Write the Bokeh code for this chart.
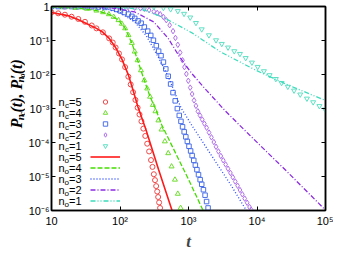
import numpy as np
from bokeh.plotting import figure
from bokeh.layouts import row
from bokeh.models import (Range1d, FixedTicker, CustomJSTickFormatter, LogAxis,
                          Legend, LegendItem, Label)
from bokeh.core.properties import value
from bokeh.embed import file_html
from bokeh.resources import INLINE

# ---------------- data (log10 of t and of P) ----------------
x_ticks = [10, 100, 1000, 10000, 100000]
x_tick_labels = ["10", "10²", "10³", "10⁴", "10⁵"]
y_ticks = [1e-6, 1e-5, 1e-4, 1e-3, 1e-2, 1e-1, 1]
y_tick_labels = ["10⁻⁶", "10⁻⁵", "10⁻⁴", "10⁻³", "10⁻²", "10⁻¹", "1"]

n_values = [5, 4, 3, 2, 1]

# markers: P_{n_c}(t)
mk5_log_t = [1.000, 1.098, 1.196, 1.293, 1.391, 1.489, 1.587, 1.656, 1.750, 1.842, 1.894, 1.936,
             1.985, 2.029, 2.075, 2.122, 2.156, 2.191, 2.225, 2.257, 2.285, 2.313, 2.341, 2.369,
             2.397, 2.425, 2.453, 2.474, 2.494, 2.511, 2.528, 2.543, 2.557, 2.571, 2.585]
mk5_log_p = [-0.174, -0.201, -0.241, -0.300, -0.367, -0.450, -0.558, -0.643, -0.759, -0.938,
             -1.059, -1.206, -1.381, -1.555, -1.783, -2.064, -2.292, -2.520, -2.748, -2.976,
             -3.177, -3.378, -3.592, -3.807, -4.035, -4.263, -4.517, -4.718, -4.933, -5.107,
             -5.282, -5.442, -5.603, -5.764, -5.925]

mk4_log_t = [1.000, 1.168, 1.349, 1.517, 1.656, 1.754, 1.838, 1.908, 1.978, 2.027, 2.075, 2.124,
             2.173, 2.215, 2.257, 2.306, 2.355, 2.397, 2.439, 2.480, 2.518, 2.561, 2.606, 2.655,
             2.704, 2.753, 2.802, 2.844, 2.885]
mk4_log_p = [-0.016, -0.024, -0.043, -0.067, -0.121, -0.169, -0.228, -0.306, -0.402, -0.509,
             -0.643, -0.845, -1.072, -1.327, -1.582, -1.877, -2.172, -2.413, -2.654, -2.895,
             -3.083, -3.351, -3.619, -3.968, -4.316, -4.705, -5.094, -5.509, -5.925]

mk3_log_t = [1.000, 1.098, 1.196, 1.293, 1.391, 1.489, 1.587, 1.684, 1.782, 1.890, 1.950, 2.006,
             2.061, 2.122, 2.173, 2.215, 2.264, 2.309, 2.355, 2.404, 2.449, 2.488, 2.530, 2.564,
             2.599, 2.634, 2.669, 2.704, 2.739, 2.774, 2.806, 2.837, 2.865, 2.890, 2.913, 2.937,
             2.961, 2.983, 3.007, 3.031, 3.053, 3.077, 3.100, 3.123, 3.146, 3.170, 3.193, 3.218,
             3.242, 3.264, 3.286]
mk3_log_p = [0.000, -0.001, -0.001, -0.002, -0.003, -0.005, -0.009, -0.016, -0.027, -0.046,
             -0.086, -0.129, -0.177, -0.223, -0.290, -0.349, -0.424, -0.491, -0.603, -0.724,
             -0.850, -0.992, -1.153, -1.314, -1.448, -1.635, -1.836, -2.051, -2.279, -2.534,
             -2.775, -3.003, -3.204, -3.378, -3.539, -3.686, -3.834, -3.968, -4.110, -4.249,
             -4.383, -4.525, -4.665, -4.799, -4.946, -5.094, -5.228, -5.389, -5.550, -5.737,
             -5.925]

mk2_log_t = [1.000, 1.196, 1.391, 1.587, 1.782, 1.978, 2.117, 2.215, 2.299, 2.355, 2.425, 2.494,
             2.543, 2.588, 2.634, 2.676, 2.725, 2.774, 2.809, 2.844, 2.878, 2.913, 2.941, 2.969,
             2.997, 3.025, 3.053, 3.081, 3.109, 3.137, 3.168, 3.200, 3.232, 3.265, 3.300, 3.335,
             3.370, 3.402, 3.437, 3.472, 3.507, 3.542, 3.577, 3.612, 3.647, 3.682, 3.717, 3.751,
             3.786, 3.821, 3.856, 3.891, 3.915]
mk2_log_p = [0.000, -0.001, -0.001, -0.002, -0.007, -0.012, -0.016, -0.035, -0.054, -0.067,
             -0.107, -0.147, -0.188, -0.228, -0.308, -0.402, -0.550, -0.724, -0.925, -1.126,
             -1.354, -1.582, -1.783, -1.984, -2.185, -2.386, -2.574, -2.761, -2.922, -3.083,
             -3.204, -3.324, -3.445, -3.566, -3.708, -3.847, -3.987, -4.126, -4.263, -4.397,
             -4.523, -4.646, -4.772, -4.895, -5.021, -5.147, -5.271, -5.397, -5.523, -5.649,
             -5.772, -5.898, -5.979]

mk1_log_t = [1.000, 1.391, 1.782, 2.075, 2.355, 2.494, 2.634, 2.739, 2.844, 2.935, 3.025, 3.109,
             3.193, 3.298, 3.402, 3.486, 3.577, 3.668, 3.751, 3.835, 3.926, 4.010, 4.101, 4.184,
             4.275, 4.359, 4.450, 4.541, 4.631, 4.729, 4.820, 4.911, 4.994]
mk1_log_p = [0.000, -0.001, -0.001, -0.003, -0.005, -0.019, -0.040, -0.080, -0.134, -0.214,
             -0.322, -0.483, -0.670, -0.845, -0.992, -1.099, -1.206, -1.314, -1.394, -1.515,
             -1.649, -1.775, -1.903, -2.019, -2.131, -2.247, -2.359, -2.472, -2.587, -2.708,
             -2.815, -2.928, -3.029]

# lines: P'_{n_0}(t)
ln5_log_t = [1.000, 1.237, 1.377, 1.517, 1.656, 1.750, 1.842, 1.936, 2.029, 2.122, 2.191, 2.261,
             2.378, 2.564, 2.774]
ln5_log_p = [-0.174, -0.268, -0.375, -0.509, -0.643, -0.759, -0.938, -1.206, -1.555, -2.011,
             -2.466, -2.949, -3.619, -4.799, -6.086]

ln4_log_t = [1.000, 1.349, 1.656, 1.838, 1.978, 2.075, 2.173, 2.257, 2.355, 2.439, 2.522, 2.610,
             2.773, 2.983, 3.221]
ln4_log_p = [-0.016, -0.043, -0.121, -0.228, -0.402, -0.643, -1.072, -1.582, -2.172, -2.654,
             -3.029, -3.485, -4.155, -5.013, -6.032]

ln3_log_t = [1.000, 1.517, 1.796, 2.006, 2.215, 2.383, 2.541, 2.704, 2.890, 3.053, 3.332, 3.612,
             3.863]
ln3_log_p = [0.000, -0.013, -0.067, -0.188, -0.456, -0.858, -1.421, -2.064, -2.976, -3.512,
             -4.370, -5.228, -6.059]

ln2_log_t = [1.000, 1.656, 1.936, 2.215, 2.494, 2.704, 2.867, 3.053, 3.263, 3.542, 3.891, 4.450,
             5.000]
ln2_log_p = [0.000, -0.021, -0.054, -0.161, -0.456, -0.938, -1.475, -1.984, -2.466, -3.083,
             -3.780, -4.879, -5.990]

ln1_log_t = [1.000, 1.796, 2.117, 2.355, 2.634, 3.053, 3.472, 3.985, 4.450, 5.000]
ln1_log_p = [0.000, -0.013, -0.040, -0.107, -0.322, -0.777, -1.340, -1.877, -2.306, -2.765]

marker_series = [(mk5_log_t, mk5_log_p), (mk4_log_t, mk4_log_p), (mk3_log_t, mk3_log_p),
                 (mk2_log_t, mk2_log_p), (mk1_log_t, mk1_log_p)]
line_series = [(ln5_log_t, ln5_log_p), (ln4_log_t, ln4_log_p), (ln3_log_t, ln3_log_p),
               (ln2_log_t, ln2_log_p), (ln1_log_t, ln1_log_p)]

# ---------------- styles ----------------
marker_types = ["circle", "triangle", "square", "diamond", "inverted_triangle"]
marker_sizes = [5, 5, 4.5, 5.5, 5]
marker_colors = ["#f04848", "#70dc30", "#4a70e8", "#b070ec", "#5ee0c4"]
line_colors = ["#ff1a1a", "#44dd00", "#2a4cff", "#8a2be2", "#3cdcbc"]
line_dashes = ["solid", "5 2", "1 2", "5 2 1 2", "5 2 1 2 1 2"]
line_widths = [1.6, 1.3, 1.3, 1.3, 1.3]

LAB_W = 25
TOTAL_W, TOTAL_H = 333, 253
BOTTOM = 37

fig = figure(width=TOTAL_W - LAB_W, height=TOTAL_H, x_axis_type="log", y_axis_type="log",
             x_range=Range1d(10, 1e5), y_range=Range1d(1e-6, 1),
             output_backend="svg", toolbar_location=None, title=None,
             min_border_left=45 - LAB_W, min_border_right=8, min_border_top=6,
             min_border_bottom=BOTTOM)
fig.grid.visible = False
fig.outline_line_color = "black"
fig.outline_line_width = 1.5
fig.background_fill_color = "white"
fig.border_fill_color = "white"

xfmt = CustomJSTickFormatter(args=dict(labels=x_tick_labels),
                             code="const e = Math.round(Math.log10(tick)); return labels[e - 1];")
yfmt = CustomJSTickFormatter(args=dict(labels=y_tick_labels),
                             code="const e = Math.round(Math.log10(tick)); return labels[e + 6];")
blank = CustomJSTickFormatter(code="return '';")

for ax, tk, fm in ((fig.xaxis[0], x_ticks, xfmt), (fig.yaxis[0], y_ticks, yfmt)):
    ax.ticker = FixedTicker(ticks=tk)
    ax.formatter = fm
    ax.major_label_text_font = "Liberation Sans"
    ax.major_label_text_font_size = "11px"
    ax.major_label_text_color = "black"
    ax.major_tick_in = 4
    ax.major_tick_out = 0
    ax.minor_tick_line_color = None
    ax.axis_line_width = 1.5
    ax.axis_line_color = "black"
    ax.major_tick_line_color = "black"
fig.xaxis.major_label_standoff = 4
fig.yaxis.major_label_standoff = 2

fig.xaxis.axis_label = "t"
fig.xaxis.axis_label_text_font = "Liberation Serif"
fig.xaxis.axis_label_text_font_style = "bold italic"
fig.xaxis.axis_label_text_font_size = "17px"
fig.xaxis.axis_label_standoff = 2

for side, tk in (("above", x_ticks), ("right", y_ticks)):
    ax = LogAxis(ticker=FixedTicker(ticks=tk), formatter=blank, major_tick_in=4, major_tick_out=0,
                 major_label_standoff=0, major_label_text_font_size="1px",
                 minor_tick_line_color=None, axis_line_width=1.5, axis_line_color="black")
    fig.add_layout(ax, side)

# ---------------- curves ----------------
marker_renderers = []
for i, (lt, lp) in enumerate(marker_series):
    r = fig.scatter(10 ** np.array(lt), 10 ** np.array(lp), marker=marker_types[i],
                    size=marker_sizes[i], fill_color=None, line_color=marker_colors[i],
                    line_width=1)
    marker_renderers.append(r)

line_renderers = []
for i, (lt, lp) in enumerate(line_series):
    r = fig.line(10 ** np.array(lt), 10 ** np.array(lp), line_color=line_colors[i],
                 line_width=line_widths[i], line_dash=line_dashes[i])
    line_renderers.append(r)

# ---------------- legend (samples) ----------------
items = [LegendItem(label=" ", renderers=[r]) for r in marker_renderers + line_renderers]
legend = Legend(items=items, location=(39, 4.5), orientation="vertical",
                glyph_width=30, glyph_height=11, label_height=11, label_width=0,
                label_standoff=0, spacing=0, padding=0, margin=0,
                border_line_color=None, background_fill_alpha=0,
                label_text_font_size="6px")
fig.add_layout(legend)

# legend texts  n_c=k / n_o=k (right aligned, left of the samples)
row_top = 109.0
row_step = 11.0
text_end = 30.0
subs = ["c"] * 5 + ["o"] * 5
for i in range(10):
    k = n_values[i % 5]
    yy = row_top - row_step * i
    fig.add_layout(Label(x=text_end, y=yy, x_units="screen", y_units="screen", text=f"={k}",
                         text_font="Liberation Sans", text_font_size="11px",
                         text_align="right", text_baseline="middle", text_color="black"))
    fig.add_layout(Label(x=text_end - 12.5, y=yy - 3.5, x_units="screen", y_units="screen",
                         text=subs[i], text_font="Liberation Sans", text_font_size="8px",
                         text_align="right", text_baseline="middle", text_color="black"))
    fig.add_layout(Label(x=text_end - 16.8, y=yy, x_units="screen", y_units="screen", text="n",
                         text_font="Liberation Sans", text_font_size="11px",
                         text_align="right", text_baseline="middle", text_color="black"))

# ---------------- y axis title  P_{n_c}(t), P'_{n_o}(t)  (separate narrow panel) ----------------
lab = figure(width=LAB_W, height=TOTAL_H, x_range=Range1d(0, LAB_W), y_range=Range1d(0, TOTAL_H),
             output_backend="svg", toolbar_location=None, title=None,
             min_border=0, min_border_left=0, min_border_right=0, min_border_top=0,
             min_border_bottom=0)
lab.axis.visible = False
lab.grid.visible = False
lab.outline_line_color = None
lab.background_fill_color = "white"
lab.border_fill_color = "white"

pieces = [("P", 16, 0.0, 9.8), ("n", 11, 3.5, 6.1), ("c", 8, 6.0, 3.6),
          ("(t), P'", 16, 0.0, 37.4), ("n", 11, 3.5, 6.1), ("o", 8, 6.0, 4.0),
          ("(t)", 16, 0.0, 15.1)]
base_x = 15.5
pos = BOTTOM + 65.0
for txt, fs, dx, w in pieces:
    lab.text(x=[base_x + dx], y=[pos], text=[txt], angle=np.pi / 2,
             text_font=value("Liberation Serif"), text_font_style="bold italic",
             text_font_size=value(f"{fs}px"), text_align="left", text_baseline="alphabetic",
             text_color="black")
    pos += w

layout = row(lab, fig, spacing=0)
open("out.html", "w").write(file_html(layout, INLINE))
